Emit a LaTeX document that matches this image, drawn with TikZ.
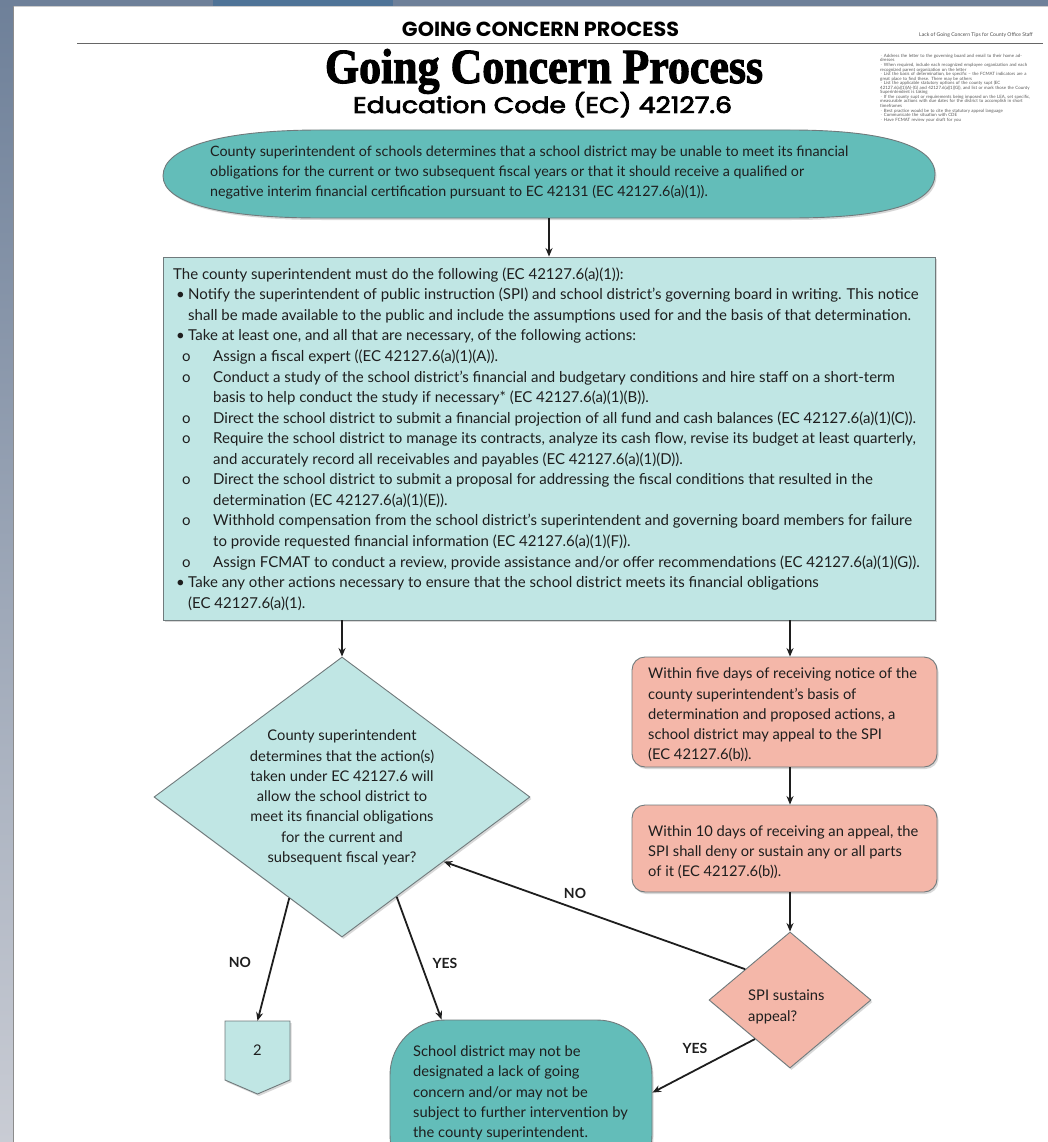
\documentclass[tikz,border=0pt]{standalone}
\usepackage{fontspec}
\usepackage{graphicx}
\setmainfont{Lato}
\newfontfamily\popfont{Poppins}
\newfontfamily\popsemi{Poppins}[FakeBold=3]
\newfontfamily\titleserif{Liberation Serif}[FakeBold=2.2]
\usetikzlibrary{shapes.geometric,arrows.meta,shadows,calc}
\definecolor{tealD}{HTML}{63BDB9}
\definecolor{tealL}{HTML}{C0E6E4}
\definecolor{salmon}{HTML}{F4B7A9}
\definecolor{edge}{HTML}{707A7C}
\definecolor{ink}{HTML}{1E1E1E}
\definecolor{stripA}{HTML}{6E8099}
\definecolor{stripB}{HTML}{C9CCD4}
\definecolor{stripBlue}{HTML}{4F7397}
\newcommand\bodyf{\fontsize{14.7}{20.3}\selectfont}
\newcommand\ellf{\fontsize{14.3}{20}\selectfont}
\newcommand\mainf{\fontsize{15}{20.55}\selectfont}
\newcommand\bul{\hspace*{3pt}\makebox[12pt][l]{\textbullet}}
\newcommand\bulc{\hspace*{15pt}}
\newcommand\subb{\hspace*{9pt}\makebox[31pt][l]{o}}
\newcommand\subc{\hspace*{40pt}}
\begin{document}
\begin{tikzpicture}[x=1pt,y=-1pt,
  shd/.style={drop shadow={shadow xshift=1.5pt,shadow yshift=-2pt,opacity=0.3}},
  shapebox/.style={draw=edge,line width=0.9pt,shd,inner sep=0pt},
  txt/.style={inner sep=0pt,text=ink,font=\bodyf,align=left},
  arr/.style={line width=1.8pt,draw=ink,-{Stealth[length=8.5pt,width=7pt]}},
  lbl/.style={inner sep=0pt,text=ink,font=\fontsize{14}{15}\selectfont\bfseries}]
\clip (0,0) rectangle (1048,1142);
% page background
\fill[white] (0,0) rectangle (1048,1142);
\shade[top color=stripA,bottom color=stripB] (0,0) rectangle (13,1142);
\fill[stripA] (13,0) rectangle (1048,6);
\fill[stripBlue] (213,0) rectangle (393,6);
\draw[color=black!45,line width=1.3pt] (13.5,6) -- (13.5,1142);
\draw[color=black!20,line width=0.8pt] (13.5,6.5) -- (1048,6.5);

% header
\node[anchor=base,inner sep=0pt] (hdr) at (540.5,37) {\resizebox{277pt}{14.5pt}{\popfont\bfseries GOING CONCERN PROCESS}};
\draw[color=black!60,line width=1.3pt] (77,43.5) -- (1043,43.5);
\node[anchor=base east,inner sep=0pt,text=black!70,font=\fontsize{5.1}{6}\selectfont] (tipshdr) at (1033,36.5) {Lack of Going Concern Tips for County Office Staff};
\node[anchor=north west,inner sep=0pt,text width=150pt,align=left,text=black!65,font=\fontsize{4.4}{4.55}\selectfont] (tips) at (880,54) {%
$\cdot$ Address the letter to the governing board and email to their home addresses\\
$\cdot$ When required, include each recognized employee organization and each recognized parent organization on the letter\\
$\cdot$ List the basis of determination, be specific -- the FCMAT indicators are a great place to find these. There may be others\\
$\cdot$ List the applicable statutory options of the county supt (EC 42127.6(a)(1)(A)-(G) and 42127.6(a)(1)(G)), and list or mark those the County Superintendent is taking\\
$\cdot$ If the county supt or requirements being imposed on the LEA, set specific, measurable actions with due dates for the district to accomplish in short timeframes\\
$\cdot$ Best practice would be to cite the statutory appeal language\\
$\cdot$ Communicate the situation with CDE\\
$\cdot$ Have FCMAT review your draft for you};

\node[anchor=base,inner sep=0pt] (title) at (544,83) {\resizebox{438pt}{34pt}{\titleserif\bfseries Going Concern Process}};
\node[anchor=base,inner sep=0pt] (subtitle) at (542.5,113) {\resizebox{379pt}{21pt}{\popsemi Education Code (EC) 42127.6}};

% start oval
\draw[draw=edge,line width=0.9pt,fill=tealD,shd]
  (163,176) .. controls (163,146) and (225,130) .. (320,130) -- (790,130)
  .. controls (885,130) and (935,146) .. (935,174)
  .. controls (935,204) and (885,218) .. (790,218) -- (320,218)
  .. controls (225,218) and (163,204) .. cycle;
\node[inner sep=0pt,minimum width=772pt,minimum height=88pt] (start) at (549,174) {};
\node[txt,font=\ellf,anchor=west] (starttxt) at (210,173) {County superintendent of schools determines that a school district may be unable to meet its financial\\
obligations for the current or two subsequent fiscal years or that it should receive a qualified or\\
negative interim financial certification pursuant to EC 42131 (EC 42127.6(a)(1)).};

% main box
\node[shapebox,rectangle,fill=tealL,minimum width=772pt,minimum height=363pt] (mainbox) at (549,438.5) {};
\node[txt,font=\mainf,anchor=north west] (maintxt) at (173,267.5) {The county superintendent must do the following (EC 42127.6(a)(1)):\\
\bul Notify the superintendent of public instruction (SPI) and school district’s governing board in writing. This notice\\
\bulc shall be made available to the public and include the assumptions used for and the basis of that determination.\\
\bul Take at least one, and all that are necessary, of the following actions:\\
\subb Assign a fiscal expert ((EC 42127.6(a)(1)(A)).\\
\subb Conduct a study of the school district’s financial and budgetary conditions and hire staff on a short-term\\
\subc basis to help conduct the study if necessary* (EC 42127.6(a)(1)(B)).\\
\subb Direct the school district to submit a financial projection of all fund and cash balances (EC 42127.6(a)(1)(C)).\\
\subb Require the school district to manage its contracts, analyze its cash flow, revise its budget at least quarterly,\\
\subc and accurately record all receivables and payables (EC 42127.6(a)(1)(D)).\\
\subb Direct the school district to submit a proposal for addressing the fiscal conditions that resulted in the\\
\subc determination (EC 42127.6(a)(1)(E)).\\
\subb Withhold compensation from the school district’s superintendent and governing board members for failure\\
\subc to provide requested financial information (EC 42127.6(a)(1)(F)).\\
\subb Assign FCMAT to conduct a review, provide assistance and/or offer recommendations (EC 42127.6(a)(1)(G)).\\
\bul Take any other actions necessary to ensure that the school district meets its financial obligations\\
\bulc (EC 42127.6(a)(1).};

% left decision
\node[shapebox,diamond,fill=tealL,minimum width=376pt,minimum height=280pt] (ldiam) at (342,797) {};
\node[txt,align=center] (ldiamtxt) at (342,797.5) {County superintendent\\determines that the action(s)\\taken under EC 42127.6 will\\allow the school district to\\meet its financial obligations\\for the current and\\subsequent fiscal year?};

% appeal boxes
\node[shapebox,rectangle,rounded corners=13pt,fill=salmon,minimum width=305pt,minimum height=110pt] (pbox1) at (784.5,712) {};
\node[txt,anchor=west] (pbox1txt) at (648,715) {Within five days of receiving notice of the\\county superintendent’s basis of\\determination and proposed actions, a\\school district may appeal to the SPI\\(EC 42127.6(b)).};
\node[shapebox,rectangle,rounded corners=13pt,fill=salmon,minimum width=305pt,minimum height=87pt] (pbox2) at (784.5,848.5) {};
\node[txt,anchor=west] (pbox2txt) at (648,852) {Within 10 days of receiving an appeal, the\\SPI shall deny or sustain any or all parts\\of it (EC 42127.6(b)).};

% SPI decision
\node[shapebox,diamond,fill=salmon,minimum width=162pt,minimum height=136pt] (sdiam) at (790,1000) {};
\node[txt,anchor=west] (sdiamtxt) at (748,1007) {SPI sustains\\appeal?};

% off-page connector 2
\draw[draw=edge,line width=0.9pt,fill=tealL,shd] (225,1021) -- (290,1021) -- (290,1080) -- (257.5,1094) -- (225,1080) -- cycle;
\node[txt,align=center,minimum width=65pt,minimum height=59pt] (conn2) at (257.5,1050.5) {2};

% terminal
\node[shapebox,rectangle,rounded corners=55pt,fill=tealD,minimum width=262pt,minimum height=170pt] (term) at (521,1105) {};
\node[txt,anchor=west] (termtxt) at (413,1093) {School district may not be\\designated a lack of going\\concern and/or may not be\\subject to further intervention by\\the county superintendent.};

% connectors
\draw[arr] (start.south) -- (mainbox.north);
\draw[arr] (mainbox.south -| ldiam.north) -- (ldiam.north);
\draw[arr] (mainbox.south -| sdiam.north) -- (pbox1.north -| sdiam.north);
\draw[arr] (pbox1.south -| sdiam.north) -- (pbox2.north -| sdiam.north);
\draw[arr] (pbox2.south -| sdiam.north) -- (sdiam.north);
\draw[arr] ($(sdiam.west)!0.45!(sdiam.north)$) -- ($(ldiam.east)!0.46!(ldiam.south)$);
\draw[arr] ($(ldiam.west)!0.72!(ldiam.south)$) -- (conn2.north);
\draw[arr] ($(ldiam.south)!0.29!(ldiam.east)$) -- ($(term.north west)+(52,0)$);
\draw[arr] ($(sdiam.west)!0.57!(sdiam.south)$) -- ($(term.north east)+(0,73)$);

% labels
\node[lbl] (lno1) at (575,893) {NO};
\node[lbl] (lno2) at (240,962) {NO};
\node[lbl] (lyes1) at (445,963) {YES};
\node[lbl] (lyes2) at (695,1048) {YES};
\end{tikzpicture}
\end{document}
